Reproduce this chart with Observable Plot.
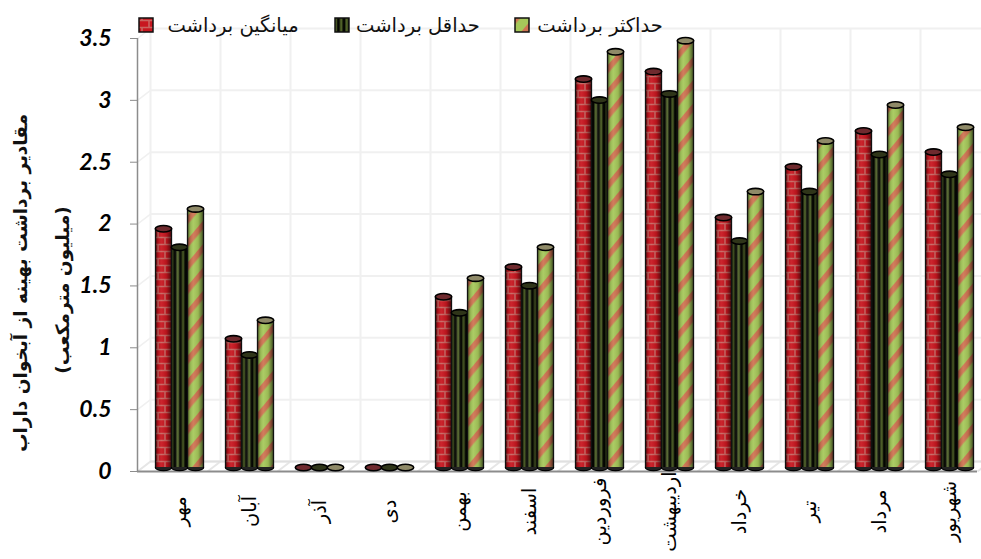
<!DOCTYPE html>
<html><head><meta charset="utf-8">
<script src="https://cdn.jsdelivr.net/npm/d3@7"></script>
<script src="https://cdn.jsdelivr.net/npm/@observablehq/plot@0.6"></script>
<style>
html,body{margin:0;padding:0;background:#fff;overflow:hidden}
#wrap{position:relative;width:981px;height:559px}
#legend{position:absolute;left:0;top:0;width:981px;height:40px;font:19.5px "DejaVu Sans",sans-serif;color:#111}
#legend .sw{position:absolute;top:17px;width:16px;height:16px}
#legend .tx{position:absolute;top:13px;white-space:nowrap;direction:rtl;line-height:26px;transform:translateX(-50%)}
</style></head><body><div id="wrap"><div id="chart"></div><div id="legend"></div></div>
<script>
const months = ["مهر","آبان","آذر","دی","بهمن","اسفند","فروردین","اردیبهشت","خرداد","تیر","مرداد","شهریور"];
const avgValues = [1.93,1.04,0,0,1.38,1.62,3.14,3.20,2.02,2.43,2.72,2.55];
const minValues = [1.78,0.91,0,0,1.25,1.47,2.97,3.02,1.83,2.23,2.53,2.37];
const maxValues = [2.09,1.19,0,0,1.53,1.78,3.36,3.45,2.23,2.64,2.93,2.75];
const seriesNames = ["میانگین برداشت","حداقل برداشت","حداکثر برداشت"];
const yTicks = [0,0.5,1,1.5,2,2.5,3,3.5];
const yTitle1 = "مقادیر برداشت بهینه از آبخوان داراب";
const yTitle2 = "(میلیون مترمکعب)";
const barW = 16/70, centre = 0.6, depthX = 13/70, depthY = 10/123.7;
const idx = months.map((_,i)=>i);

const series = [
 {vals:avgValues, off:-1, fill:"url(#brick)", lid:"#6f2a2e"},
 {vals:minValues, off:0,  fill:"url(#stripe)", lid:"#2f3519"},
 {vals:maxValues, off:1,  fill:"url(#diag)", lid:"#8f8a68"}
];
const ellipse = {draw(c){
  const rx=8.2, ry=3.2, k=0.5523;
  c.moveTo(-rx,0);
  c.bezierCurveTo(-rx,-ry*k,-rx*k,-ry,0,-ry);
  c.bezierCurveTo(rx*k,-ry,rx,-ry*k,rx,0);
  c.bezierCurveTo(rx,ry*k,rx*k,ry,0,ry);
  c.bezierCurveTo(-rx*k,ry,-rx,ry*k,-rx,0);
  c.closePath();
}};
const grid="#f0f0f0", axisC="#8c8c8c";
const marks=[
  Plot.ruleY(yTicks,{y:d=>d+depthY,x1:depthX,x2:12+depthX,stroke:grid,strokeWidth:2}),
  Plot.ruleX(d3.range(0,13),{x:d=>d+depthX,y1:depthY,y2:3.5+depthY,stroke:grid,strokeWidth:2}),
  Plot.link(yTicks,{x1:0,x2:depthX,y1:d=>d,y2:d=>d+depthY,stroke:grid,strokeWidth:1.5}),
  Plot.link(d3.range(0,13),{x1:d=>d,x2:d=>d+depthX,y1:0,y2:depthY,stroke:"#e6e6e6",strokeWidth:2}),
  Plot.ruleY([depthY],{x1:depthX,x2:12+depthX,stroke:"#e0e0e0",strokeWidth:2}),
  Plot.ruleX([0],{y1:0,y2:3.5,stroke:axisC,strokeWidth:1.5}),
  Plot.ruleY([0],{x1:0,x2:12,stroke:axisC,strokeWidth:2}),
  Plot.axisY({ticks:yTicks,tickSize:7,tickPadding:19,stroke:axisC,fill:"#000",
    tickFormat:d=>String(d),label:null,fontSize:23,fontWeight:"bold",fontFamily:"Lato"}),
  Plot.text(months,{x:(d,i)=>i+centre,y:0,dy:40,text:d=>d,rotate:-90,textAnchor:"middle",
    lineAnchor:"middle",fontSize:19.5,fontFamily:"DejaVu Sans",fill:"#000"}),
];
for(const s of series){
  const xc=i=>i+centre+s.off*barW;
  const live=idx.filter(i=>s.vals[i]>0);
  marks.push(
    Plot.dot(live,{x:xc,y:()=>0,symbol:ellipse,fill:"#222",stroke:"#000",strokeWidth:1.2,dy:-4}),
    Plot.rectY(live,{x1:i=>xc(i)-barW/2,x2:i=>xc(i)+barW/2,y1:()=>0,y2:i=>s.vals[i],fill:s.fill,dy:-4}),
    Plot.rectY(live,{x1:i=>xc(i)-barW/2,x2:i=>xc(i)+barW/2,y1:()=>0,y2:i=>s.vals[i],fill:"url(#shade)",dy:-4}),
    Plot.ruleX(live,{x:i=>xc(i)-barW/2,y1:()=>0,y2:i=>s.vals[i],stroke:"#111",strokeWidth:1.3,dy:-4}),
    Plot.ruleX(live,{x:i=>xc(i)+barW/2,y1:()=>0,y2:i=>s.vals[i],stroke:"#111",strokeWidth:1.3,dy:-4}),
    Plot.dot(idx,{x:xc,y:i=>s.vals[i],symbol:ellipse,fill:s.lid,stroke:"#000",strokeWidth:1.6,dy:-4})
  );
}
const plot=Plot.plot({
  width:981,height:559,marginTop:38,marginBottom:88,marginLeft:137,marginRight:4,
  style:{background:"#fff",overflow:"hidden"},
  x:{domain:[0,12],axis:null},
  y:{domain:[0,3.5],axis:null},
  marks
});
d3.select(plot).selectAll("text").filter(function(){return /^[0-9.]+$/.test(this.textContent)}).style("font-style","italic");
d3.select(plot).selectAll("g[aria-label='y-axis tick label']").style("font-style","italic");
const defs=d3.select(plot).insert("defs",":first-child");
const brick=defs.append("pattern").attr("id","brick").attr("patternUnits","userSpaceOnUse").attr("width",14).attr("height",14);
brick.append("rect").attr("width",14).attr("height",14).attr("fill","#c8161f");
brick.append("path").attr("d","M0 3.5H14M0 10.5H14M4 0V3.5M11 3.5V10.5M4 10.5V14").attr("stroke","#c9635f").attr("stroke-width",1.6).attr("fill","none");
const stripe=defs.append("pattern").attr("id","stripe").attr("patternUnits","userSpaceOnUse").attr("width",5.5).attr("height",8);
stripe.append("rect").attr("width",5.5).attr("height",8).attr("fill","#050702");
stripe.append("rect").attr("x",0.4).attr("width",2.6).attr("height",8).attr("fill","#4f6128");
const diag=defs.append("pattern").attr("id","diag").attr("patternUnits","userSpaceOnUse").attr("width",15).attr("height",15).attr("patternTransform","rotate(-50)");
diag.append("rect").attr("width",15).attr("height",15).attr("fill","#a6c85a");
diag.append("rect").attr("width",15).attr("height",5.5).attr("fill","#cf7452");
const shade=defs.append("linearGradient").attr("id","shade");
[[0,"#000",.6],[.2,"#000",.12],[.4,"#fff",.06],[.7,"#000",.08],[1,"#000",.55]].forEach(([o,c,a])=>
  shade.append("stop").attr("offset",o).attr("stop-color",c).attr("stop-opacity",a));
const ns="http://www.w3.org/2000/svg";
document.getElementById("chart").append(plot);
const legend=document.getElementById("legend");
const swX=[138,334,514], txX=[233,418,600], swFill=["url(#brick)","url(#stripe)","url(#diag)"];
seriesNames.forEach((n,i)=>{
  const s=document.createElementNS(ns,"svg");s.setAttribute("class","sw");s.setAttribute("width",16);s.setAttribute("height",16);s.style.left=swX[i]+"px";
  s.innerHTML=`<rect x="1" y="1" width="14" height="14" fill="${swFill[i]}" stroke="#111" stroke-width="1.5"/>`;
  legend.append(s);
  const t=document.createElement("div");t.className="tx";t.style.left=txX[i]+"px";t.textContent=n;legend.append(t);
});
[[yTitle1,20,283],[yTitle2,62,290]].forEach(([t,x,y])=>{
  const e=document.createElement("div");
  e.textContent=t;
  e.style.cssText=`position:absolute;left:${x}px;top:${y}px;transform:translate(-50%,-50%) rotate(-90deg);white-space:nowrap;direction:rtl;font:bold 18.5px "DejaVu Sans",sans-serif;color:#111`;
  document.getElementById("wrap").append(e);
});
</script></body></html>
